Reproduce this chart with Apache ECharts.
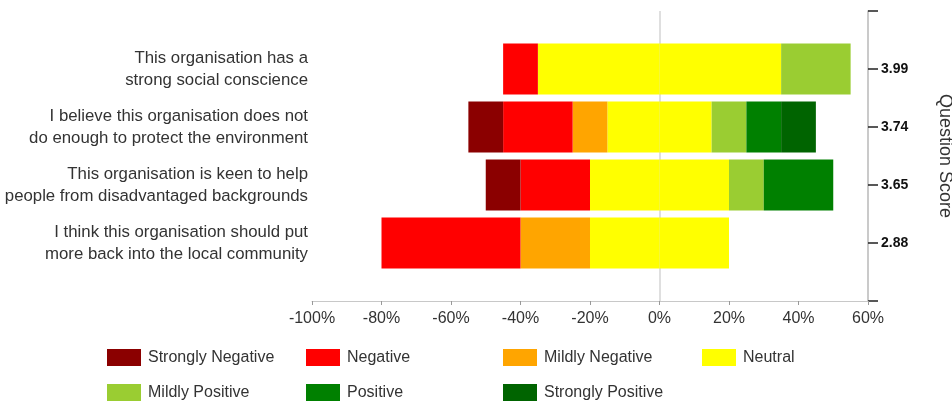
<!DOCTYPE html>
<html>
<head>
<meta charset="utf-8">
<script src="https://cdn.jsdelivr.net/npm/echarts@6/dist/echarts.min.js"></script>
<style>
  html, body { margin: 0; padding: 0; background: #fff; }
  #chart { width: 952px; height: 406px; }
</style>
</head>
<body>
<div id="chart"></div>
<script>
// Survey statements, top to bottom
const questions = [
  'This organisation has a\nstrong social conscience',
  'I believe this organisation does not\ndo enough to protect the environment',
  'This organisation is keen to help\npeople from disadvantaged backgrounds',
  'I think this organisation should put\nmore back into the local community'
];
// Average score per statement (right axis)
const scores = ['3.99', '3.74', '3.65', '2.88'];

// Share of responses (%) per answer band
const stronglyNegative = [0, 10, 10, 0];
const negative         = [10, 20, 20, 40];
const mildlyNegative   = [0, 10, 0, 20];
const neutral          = [70, 30, 40, 40];
const mildlyPositive   = [20, 10, 10, 0];
const positive         = [0, 10, 20, 0];
const stronglyPositive = [0, 10, 0, 0];

const xTicks = { min: -100, max: 60, step: 20 };

const COLORS = {
  'Strongly Negative': '#8B0000',
  'Negative': '#FF0000',
  'Mildly Negative': '#FFA500',
  'Neutral': '#FFFF00',
  'Mildly Positive': '#9ACD32',
  'Positive': '#008000',
  'Strongly Positive': '#006400'
};

const FONT = "'Liberation Sans', Arial, sans-serif";

// Empty slots above and below so rows sit between the axis end ticks
const pad = arr => [null, ...arr, null];
const cats = pad(questions).map(v => v === null ? '' : v);
const scoreCats = pad(scores).map(v => v === null ? '' : v);

// Stacks grow outward from 0: neutral is split across both sides
const stackOrder = [
  ['Neutral', neutral.map(v => -v / 2)],
  ['Mildly Negative', mildlyNegative.map(v => -v)],
  ['Negative', negative.map(v => -v)],
  ['Strongly Negative', stronglyNegative.map(v => -v)],
  ['Neutral', neutral.map(v => v / 2)],
  ['Mildly Positive', mildlyPositive],
  ['Positive', positive],
  ['Strongly Positive', stronglyPositive]
];

const series = stackOrder.map(([name, vals], i) => {
  const s = {
    name: name,
    type: 'bar',
    stack: 'responses',
    barWidth: 51,
    z: 2,
    itemStyle: { color: COLORS[name] },
    data: pad(vals)
  };
  if (i === 0) {
    s.markLine = {
      silent: true,
      symbol: 'none',
      z: 1,
      label: { show: false },
      lineStyle: { color: '#d4d4d4', width: 1.5, type: 'solid' },
      data: [{ xAxis: 0 }]
    };
  }
  return s;
});

// Legend laid out as a 4-column, 2-row grid
const legendSlots = [
  ['Strongly Negative', 107, 0], ['Negative', 306, 0], ['Mildly Negative', 503, 0], ['Neutral', 702, 0],
  ['Mildly Positive', 107, 1], ['Positive', 306, 1], ['Strongly Positive', 503, 1]
];
const legends = legendSlots.map(([name, left, row]) => ({
  left: left,
  top: 349 + row * 35,
  padding: 0,
  itemWidth: 34,
  itemHeight: 17,
  icon: 'rect',
  selectedMode: false,
  data: [name],
  textStyle: { fontFamily: FONT, fontSize: 16, color: '#333', padding: [0, 0, 0, 2] }
}));

const chart = echarts.init(document.getElementById('chart'), null, { renderer: 'canvas' });
chart.setOption({
  animation: false,
  backgroundColor: '#fff',
  grid: { left: 312, right: 84, top: 11, bottom: 105, containLabel: false, outerBoundsMode: 'none' },
  legend: legends,
  xAxis: {
    type: 'value',
    min: xTicks.min,
    max: xTicks.max,
    interval: xTicks.step,
    axisLine: { show: true, lineStyle: { color: '#c8c8c8', width: 1 } },
    axisTick: { show: true, length: 4, lineStyle: { color: '#999' } },
    splitLine: { show: false },
    axisLabel: {
      formatter: '{value}%',
      fontFamily: FONT,
      fontSize: 16,
      color: '#333',
      margin: 10
    }
  },
  yAxis: [
    {
      type: 'category',
      position: 'left',
      inverse: true,
      boundaryGap: false,
      data: cats,
      axisLine: { show: false },
      axisTick: { show: false },
      splitLine: { show: false },
      axisLabel: {
        interval: 0,
        margin: 4,
        fontFamily: FONT,
        fontSize: 16.8,
        lineHeight: 22,
        color: '#333',
        align: 'right'
      }
    },
    {
      type: 'category',
      position: 'right',
      inverse: true,
      boundaryGap: false,
      data: scoreCats,
      name: 'Question Score',
      nameLocation: 'middle',
      nameRotate: -90,
      nameGap: 68,
      nameTextStyle: { fontFamily: FONT, fontSize: 18, color: '#333' },
      axisLine: { show: true, lineStyle: { color: '#b8b8b8', width: 1.5 } },
      axisTick: { show: true, interval: 0, length: 10, lineStyle: { color: '#222', width: 1.5 } },
      splitLine: { show: false },
      axisLabel: {
        interval: 0,
        margin: 13,
        fontFamily: FONT,
        fontSize: 14,
        fontWeight: 'bold',
        color: '#111'
      }
    }
  ],
  series: series
});
</script>
</body>
</html>
